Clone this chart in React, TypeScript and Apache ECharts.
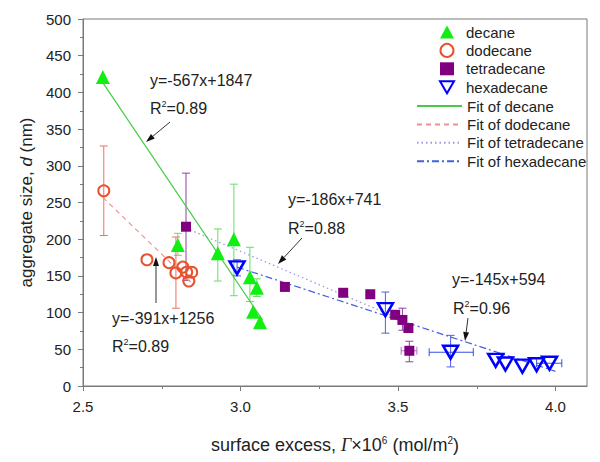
import React, { useEffect, useRef } from 'react';
import * as echarts from 'echarts';

// ---- data ----
const decane = [[2.563, 421], [2.801, 192], [2.928, 181], [2.979, 200], [3.03, 148], [3.052, 134], [3.04, 101], [3.062, 87]];
const dodecane = [[2.566, 266], [2.703, 172], [2.773, 168], [2.795, 154], [2.817, 162], [2.829, 155], [2.845, 155], [2.836, 143]];
const tetradecane = [[2.827, 217], [3.141, 135], [3.326, 127], [3.412, 125], [3.491, 97], [3.514, 90], [3.533, 79], [3.536, 48]];
const hexadecane = [[2.989, 161], [3.46, 104], [3.667, 46], [3.81, 35], [3.841, 30], [3.895, 27], [3.94, 29], [3.981, 31]];

// vertical error bars: [x, low, high]
const decaneErr = [[2.801, 178, 208], [2.928, 143, 214], [2.979, 123, 275], [3.03, 115, 189], [3.052, 122, 146]];
const dodecaneErr = [[2.566, 205, 327], [2.795, 106, 203]];
const tetradecaneErr = [[2.827, 144, 290], [3.514, 76, 106], [3.536, 33, 61]];
const hexadecaneErr = [[2.989, 150, 172], [3.46, 72, 128], [3.667, 26, 69]];
// horizontal error bars: [y, low, high]
const tetradecaneErrX = [[48, 3.51, 3.56]];
const hexadecaneErrX = [[46, 3.599, 3.739], [31, 3.94, 4.02]];

// fitted lines (end points)
const decaneFit = [[2.565, 412], [3.07, 90]];
const dodecaneFit = [[2.563, 257], [2.845, 140]];
const tetradecaneFit = [[2.827, 215], [3.535, 86]];
const hexadecaneFit = [[2.989, 162], [4.0, 20]];

const xMajor = [2.5, 3.0, 3.5, 4.0];
const xMinor = [2.75, 3.25, 3.75];

const equations = [
  { eq: 'y=-567x+1847', r2: '0.89' },
  { eq: 'y=-391x+1256', r2: '0.89' },
  { eq: 'y=-186x+741', r2: '0.88' },
  { eq: 'y=-145x+594', r2: '0.96' },
];

const FONT = "'Liberation Sans', Arial, sans-serif";
const AXIS = '#7a7a7a';
const TXT = '#222';

function errY(data: number[][], color: string) {
  return {
    type: 'custom',
    data,
    z: 2,
    silent: true,
    clip: true,
    encode: { x: 0, y: [1, 2] },
    renderItem: (params: any, api: any) => {
      const x = api.value(0);
      const p1 = api.coord([x, api.value(1)]);
      const p2 = api.coord([x, api.value(2)]);
      const c = 4;
      const st = { stroke: color, lineWidth: 1 };
      return {
        type: 'group',
        children: [
          { type: 'line', shape: { x1: p1[0], y1: p1[1], x2: p2[0], y2: p2[1] }, style: st },
          { type: 'line', shape: { x1: p1[0] - c, y1: p1[1], x2: p1[0] + c, y2: p1[1] }, style: st },
          { type: 'line', shape: { x1: p2[0] - c, y1: p2[1], x2: p2[0] + c, y2: p2[1] }, style: st },
        ],
      };
    },
  };
}

function errX(data: number[][], color: string) {
  return {
    type: 'custom',
    data,
    z: 2,
    silent: true,
    clip: true,
    encode: { y: 0, x: [1, 2] },
    renderItem: (params: any, api: any) => {
      const y = api.value(0);
      const p1 = api.coord([api.value(1), y]);
      const p2 = api.coord([api.value(2), y]);
      const c = 4;
      const st = { stroke: color, lineWidth: 1 };
      return {
        type: 'group',
        children: [
          { type: 'line', shape: { x1: p1[0], y1: p1[1], x2: p2[0], y2: p2[1] }, style: st },
          { type: 'line', shape: { x1: p1[0], y1: p1[1] - c, x2: p1[0], y2: p1[1] + c }, style: st },
          { type: 'line', shape: { x1: p2[0], y1: p2[1] - c, x2: p2[0], y2: p2[1] + c }, style: st },
        ],
      };
    },
  };
}

function arrow(x1: number, y1: number, x2: number, y2: number) {
  const dx = x2 - x1, dy = y2 - y1;
  const L = Math.sqrt(dx * dx + dy * dy);
  const ux = dx / L, uy = dy / L;
  const len = 9, hw = 3;
  const bx = x2 - ux * len, by = y2 - uy * len;
  return [
    { type: 'line', shape: { x1, y1, x2: bx, y2: by }, style: { stroke: '#333', lineWidth: 1 }, z: 20 },
    {
      type: 'polygon',
      shape: { points: [[x2, y2], [bx - uy * hw, by + ux * hw], [bx + uy * hw, by - ux * hw]] },
      style: { fill: '#111' },
      z: 20,
    },
  ];
}

function label(text: string, x: number, y: number) {
  return {
    type: 'text',
    x,
    y,
    z: 20,
    style: {
      text,
      fontSize: 16,
      fontFamily: FONT,
      fill: TXT,
      verticalAlign: 'middle',
      align: 'left',
      rich: { sup: { fontSize: 9, fontFamily: FONT, fill: TXT, padding: [0, 0, 9, 0] } },
    },
  };
}

const eqPos = [
  [150, 80, 150, 108],
  [112, 318, 112, 346],
  [288, 199, 288, 228],
  [452, 279, 453, 308],
];

export default function App() {
  const ref = useRef<HTMLDivElement>(null);
  useEffect(() => {
    if (!ref.current) return;
    const chart = echarts.init(ref.current, null, { renderer: 'svg' });

    const graphics: any[] = [];
    equations.forEach((e, i) => {
      const p = eqPos[i];
      graphics.push(label(e.eq, p[0], p[1]));
      graphics.push(label('R{sup|2}=' + e.r2, p[2], p[3]));
    });
    graphics.push(...arrow(170, 122, 146, 142));
    graphics.push(...arrow(156, 303, 156, 257));
    graphics.push(...arrow(302, 238, 278, 264));
    graphics.push(...arrow(468, 318, 465, 341));

    const legendText = { fontSize: 15, fontFamily: FONT, color: TXT };

    const option: any = {
      animation: false,
      backgroundColor: '#fff',
      textStyle: { fontFamily: FONT },
      grid: { left: 83, right: 13, top: 19, bottom: 76, show: true, borderColor: AXIS, borderWidth: 1 },
      legend: [
        {
          data: [
            'decane',
            'dodecane',
            'tetradecane',
            { name: 'hexadecane', icon: 'path://M0,0L14,0L7,12Z' },
          ],
          orient: 'vertical',
          left: 439,
          top: 24.5,
          padding: 0,
          itemWidth: 14,
          itemHeight: 13,
          itemGap: 3.4,
          selectedMode: false,
          textStyle: { ...legendText, padding: [0, 0, 0, 7] },
        },
        {
          data: ['Fit of decane', 'Fit of dodecane', 'Fit of tetradecane', 'Fit of hexadecane'],
          orient: 'vertical',
          left: 416,
          top: 98.5,
          padding: 0,
          itemWidth: 45,
          itemHeight: 13,
          itemGap: 3.4,
          selectedMode: false,
          itemStyle: { opacity: 0, borderWidth: 0 },
          textStyle: legendText,
        },
      ],
      xAxis: [
        {
          type: 'value',
          min: 2.5,
          max: 4.1,
          interval: 0.5,
          axisLine: { show: true, onZero: false, lineStyle: { color: AXIS } },
          axisTick: { show: true, length: 5, customValues: xMajor, lineStyle: { color: AXIS } },
          axisLabel: {
            customValues: xMajor,
            fontSize: 15,
            color: TXT,
            fontFamily: FONT,
            margin: 13,
            formatter: (v: number) => v.toFixed(1),
          },
          splitLine: { show: false },
          name: 'surface excess, {i|Γ}×10{sup|6} (mol/m{sup|2})',
          nameLocation: 'middle',
          nameGap: 49,
          nameTextStyle: {
            fontSize: 18,
            color: TXT,
            fontFamily: FONT,
            rich: {
              i: { fontSize: 18, fontStyle: 'italic', fontFamily: "'Liberation Serif', serif", color: TXT },
              sup: { fontSize: 10, color: TXT, fontFamily: FONT, padding: [0, 0, 10, 0] },
            },
          },
        },
        {
          type: 'value',
          min: 2.5,
          max: 4.1,
          position: 'bottom',
          axisLine: { show: false },
          axisTick: { show: true, length: 3, customValues: xMinor, lineStyle: { color: AXIS } },
          axisLabel: { show: false },
          splitLine: { show: false },
        },
      ],
      yAxis: {
        type: 'value',
        min: 0,
        max: 500,
        interval: 50,
        axisLine: { show: true, lineStyle: { color: AXIS } },
        axisTick: { show: true, length: 5, lineStyle: { color: AXIS } },
        minorTick: { show: true, splitNumber: 2, length: 3, lineStyle: { color: AXIS } },
        splitLine: { show: false },
        minorSplitLine: { show: false },
        axisLabel: { fontSize: 15, color: TXT, fontFamily: FONT, margin: 12 },
        name: 'aggregate size, {i|d} (nm)',
        nameLocation: 'middle',
        nameGap: 48,
        nameTextStyle: {
          fontSize: 17,
          color: TXT,
          fontFamily: FONT,
          rich: { i: { fontSize: 17, fontStyle: 'italic', color: TXT, fontFamily: FONT } },
        },
      },
      series: [
        errY(decaneErr, '#66dd66'),
        errY(dodecaneErr, '#f07060'),
        errY(tetradecaneErr, '#9040a0'),
        errY(hexadecaneErr, '#5060e0'),
        errX(tetradecaneErrX, '#b070c0'),
        errX(hexadecaneErrX, '#3050e0'),
        {
          name: 'Fit of decane', type: 'line', data: decaneFit, symbol: 'none', z: 3,
          lineStyle: { color: '#44cc44', width: 1.2 }, itemStyle: { color: '#44cc44' },
        },
        {
          name: 'Fit of dodecane', type: 'line', data: dodecaneFit, symbol: 'none', z: 3,
          lineStyle: { color: '#ee9090', width: 1.2, type: [5, 4] }, itemStyle: { color: '#ee9090' },
        },
        {
          name: 'Fit of tetradecane', type: 'line', data: tetradecaneFit, symbol: 'none', z: 3,
          lineStyle: { color: '#9a9ae6', width: 1.3, type: [1.5, 3] }, itemStyle: { color: '#9a9ae6' },
        },
        {
          name: 'Fit of hexadecane', type: 'line', data: hexadecaneFit, symbol: 'none', z: 3,
          lineStyle: { color: '#4060e0', width: 1.2, type: [7, 3, 2, 3] }, itemStyle: { color: '#4060e0' },
        },
        {
          name: 'decane', type: 'scatter', data: decane, symbol: 'triangle', symbolSize: 14, z: 5,
          itemStyle: { color: '#11ee11', opacity: 1 },
        },
        {
          name: 'dodecane', type: 'scatter', data: dodecane, symbol: 'circle', symbolSize: 11, z: 5,
          itemStyle: { color: 'rgba(255,255,255,0)', borderColor: '#e8532f', borderWidth: 2, opacity: 1 },
        },
        {
          name: 'tetradecane', type: 'scatter', data: tetradecane, symbol: 'rect', symbolSize: 10, z: 5,
          itemStyle: { color: '#800080', opacity: 1 },
        },
        {
          name: 'hexadecane', type: 'scatter', data: hexadecane, symbol: 'triangle', symbolRotate: 180,
          symbolSize: [15, 13], z: 6,
          itemStyle: { color: 'rgba(255,255,255,0)', borderColor: '#0000ff', borderWidth: 2.5, opacity: 1 },
        },
      ],
      graphic: graphics,
    };
    chart.setOption(option);
    return () => chart.dispose();
  }, []);
  return (
    <div
      ref={ref}
      style={{ position: 'absolute', left: 0, top: 0, width: 600, height: 462, background: '#fff' }}
    />
  );
}
